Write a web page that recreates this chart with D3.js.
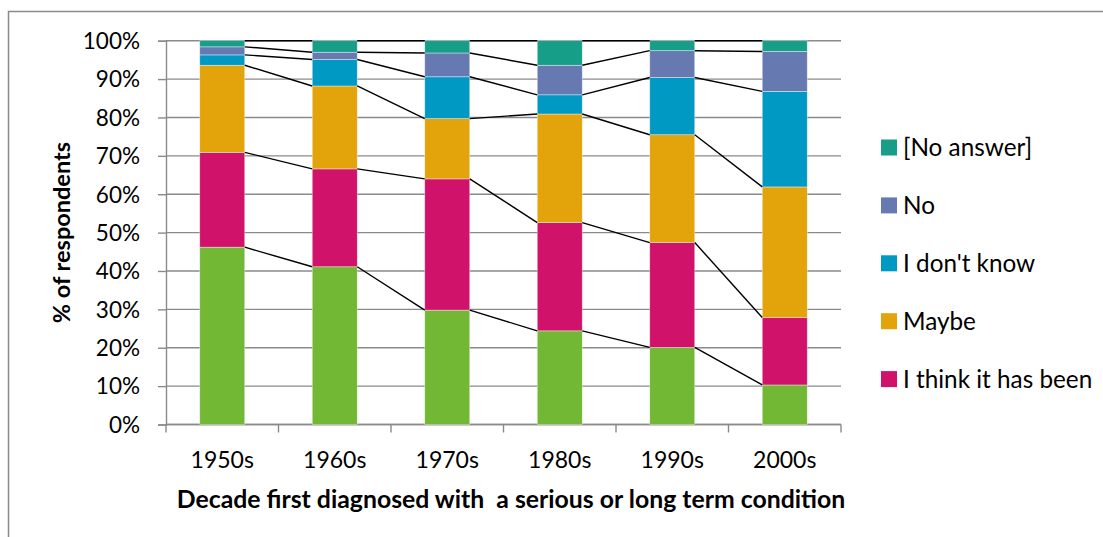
<!DOCTYPE html>
<html>
<head>
<meta charset="utf-8">
<script src="https://cdn.jsdelivr.net/npm/d3@7"></script>
<style>
  body { margin: 0; background: #fff; }
  text { font-family: Lato, "Open Sans", "DejaVu Sans", sans-serif; fill: #000; }
</style>
</head>
<body>
<svg id="chart" width="1103" height="537"></svg>
<script>
// Decade first diagnosed, and share of respondents (%) giving each answer
const decades = ["1950s", "1960s", "1970s", "1980s", "1990s", "2000s"];
const yes            = [46.2, 41.1, 29.8, 24.4, 20.1, 10.3];
const thinkItHasBeen = [24.7, 25.5, 34.2, 28.2, 27.3, 17.6];
const maybe          = [22.7, 21.6, 15.7, 28.3, 28.1, 34.0];
const dontKnow       = [2.7, 6.9, 10.9, 5.0, 14.9, 24.9];
const no             = [2.1, 1.9, 6.2, 7.7, 7.0, 10.4];
const noAnswer       = [1.6, 3.0, 3.2, 6.4, 2.6, 2.8];

const seriesNames = ["Yes", "I think it has been", "Maybe", "I don't know", "No", "[No answer]"];
const seriesValues = [yes, thinkItHasBeen, maybe, dontKnow, no, noAnswer];
const seriesColors = ["#72b834", "#d0126b", "#e2a30b", "#0099c4", "#6779b1", "#169e88"];
// Legend entries, listed from the top of the stack down
const legendNames = ["[No answer]", "No", "I don't know", "Maybe", "I think it has been"];
const yTicks = [0, 10, 20, 30, 40, 50, 60, 70, 80, 90, 100];
const yTitle = "% of respondents";
const xTitle = "Decade first diagnosed with  a serious or long term condition";

const rows = decades.map((d, i) => {
  const r = { decade: d };
  seriesNames.forEach((s, k) => { r[s] = seriesValues[k][i]; });
  return r;
});
const stacked = d3.stack().keys(seriesNames)(rows);

const svg = d3.select("#chart");
const plot = { left: 166, right: 841, top: 40.7, bottom: 424.5 };
const gridColor = "#8a8a8a";

// outer chart frame
svg.append("rect")
  .attr("x", 8.5).attr("y", 11.5).attr("width", 1200).attr("height", 600)
  .attr("fill", "none").attr("stroke", gridColor).attr("stroke-width", 1.5);

const x = d3.scaleBand().domain(decades).range([plot.left, plot.right]).padding(0);
const y = d3.scaleLinear().domain([0, 100]).range([plot.bottom, plot.top]);
const barW = x.bandwidth() * 0.4;
const barX = d => x(d) + (x.bandwidth() - barW) / 2;

// horizontal gridlines
svg.append("g").selectAll("line").data(yTicks).join("line")
  .attr("x1", plot.left).attr("x2", plot.right)
  .attr("y1", d => y(d)).attr("y2", d => y(d))
  .attr("stroke", gridColor).attr("stroke-width", 1.4);

// y axis with outward ticks
const yAxis = svg.append("g").attr("transform", `translate(${plot.left},0)`)
  .call(d3.axisLeft(y).tickValues(yTicks).tickSize(8).tickPadding(18).tickFormat(d => d + "%"));
yAxis.select(".domain").attr("stroke", gridColor).attr("stroke-width", 1.4);
yAxis.selectAll(".tick line").attr("stroke", gridColor).attr("stroke-width", 1.4);
yAxis.selectAll("text").attr("font-size", 22.5).attr("font-family", "Lato, sans-serif").attr("dy", "0.35em");

// x axis: ticks on category boundaries, labels centred in each band
const xAxisG = svg.append("g").attr("transform", `translate(0,${plot.bottom})`);
xAxisG.append("line").attr("x1", plot.left).attr("x2", plot.right)
  .attr("stroke", gridColor).attr("stroke-width", 1.4);
const boundaries = decades.map(d => x(d)).concat([plot.right]);
xAxisG.selectAll("line.tk").data(boundaries).join("line").attr("class", "tk")
  .attr("x1", d => d).attr("x2", d => d).attr("y1", 0).attr("y2", 8)
  .attr("stroke", gridColor).attr("stroke-width", 1.4);
xAxisG.selectAll("text").data(decades).join("text")
  .attr("x", d => x(d) + x.bandwidth() / 2).attr("y", 35.5)
  .attr("text-anchor", "middle").attr("dy", "0.35em").attr("font-size", 23)
  .text(d => d);

// stacked bars
svg.append("g").selectAll("g").data(stacked).join("g")
  .attr("fill", (s, k) => seriesColors[k])
  .selectAll("rect").data(s => s).join("rect")
  .attr("x", d => barX(d.data.decade))
  .attr("width", barW)
  .attr("y", d => y(d[1]))
  .attr("height", d => y(d[0]) - y(d[1]))
  .attr("stroke", "#ffffff").attr("stroke-opacity", 0.55).attr("stroke-width", 0.7);

// series lines joining the top of each segment between neighbouring bars
const links = [];
stacked.forEach(s => {
  for (let i = 0; i < s.length - 1; i++) {
    links.push({
      x1: barX(s[i].data.decade) + barW, y1: y(s[i][1]),
      x2: barX(s[i + 1].data.decade), y2: y(s[i + 1][1])
    });
  }
});
svg.append("g").selectAll("line").data(links).join("line")
  .attr("x1", d => d.x1).attr("y1", d => d.y1)
  .attr("x2", d => d.x2).attr("y2", d => d.y2)
  .attr("stroke", "#000").attr("stroke-width", 1.4);

// axis titles
svg.append("text")
  .attr("transform", `translate(62,${(plot.top + plot.bottom) / 2}) rotate(-90)`)
  .attr("text-anchor", "middle").attr("dy", "0.35em")
  .attr("font-size", 23.5).attr("font-weight", "bold")
  .text(yTitle);
svg.append("text")
  .attr("x", 511).attr("y", 499).attr("dy", "0.35em")
  .attr("text-anchor", "middle").attr("font-size", 24.8).attr("font-weight", "bold")
  .attr("xml:space", "preserve").style("white-space", "pre")
  .text(xTitle);

// legend
const legend = svg.append("g").selectAll("g").data(legendNames).join("g")
  .attr("transform", (d, i) => `translate(881,${147.5 + i * 57.9})`);
legend.append("rect").attr("x", 0).attr("y", -8).attr("width", 16).attr("height", 16)
  .attr("fill", d => seriesColors[seriesNames.indexOf(d)]);
legend.append("text").attr("x", 22).attr("dy", "0.35em").attr("font-size", 24.3)
  .text(d => d);
</script>
</body>
</html>
